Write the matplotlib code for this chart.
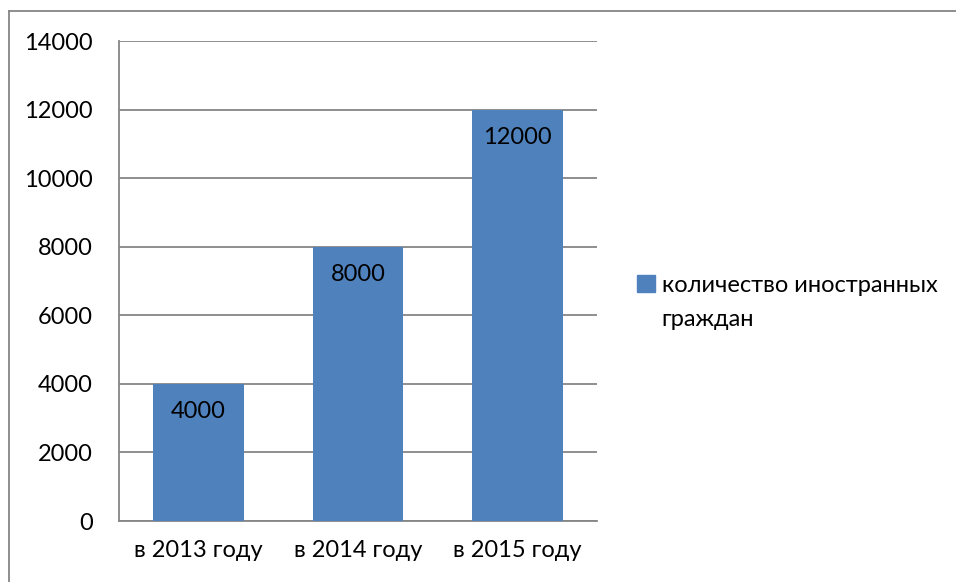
import matplotlib.pyplot as plt
from matplotlib.lines import Line2D
from matplotlib.patches import Patch

# данные
categories = ["в 2013 году", "в 2014 году", "в 2015 году"]
values = [4000, 8000, 12000]
series_name = ["количество иностранных", "граждан"]
yticks = [0, 2000, 4000, 6000, 8000, 10000, 12000, 14000]

plt.rcParams['font.family'] = ['Lato', 'DejaVu Sans']
W, H = 956, 582
fig = plt.figure(figsize=(W / 100, H / 100), dpi=100)
ax = fig.add_axes([119 / W, (H - 521) / H, 478 / W, 480 / H])

bar_color = '#4F81BD'
grid_color = '#868686'
fs = 17
x = list(range(len(categories)))
bars = ax.bar(x, values, width=0.57, color=bar_color, zorder=3)

for b, v in zip(bars, values):
    ax.text(b.get_x() + b.get_width() / 2, v - 820, str(v),
            ha='center', va='center', fontsize=fs, color='black', zorder=4)

ax.set_xlim(-0.5, 2.5)
ax.set_ylim(0, 14000)
ax.set_yticks(yticks)
ax.set_yticklabels([str(t) for t in yticks])
ax.set_xticks(x)
ax.set_xticklabels(categories)
ax.tick_params(axis='both', length=0, labelsize=fs, colors='black')
ax.tick_params(axis='y', pad=19)
ax.tick_params(axis='x', pad=14)
ax.yaxis.grid(True, color=grid_color, lw=1.3, zorder=0)
for s in ['top', 'right']:
    ax.spines[s].set_visible(False)
for s in ['left', 'bottom']:
    ax.spines[s].set_color(grid_color)
    ax.spines[s].set_linewidth(1.3)

# легенда: первая строка с маркером, вторая строка отдельным текстом
leg = fig.legend(handles=[Patch(color=bar_color, label=series_name[0])],
                 loc='center left', bbox_to_anchor=(637 / W, 1 - 285 / H),
                 frameon=False, fontsize=fs, handlelength=0.75, handleheight=0.75,
                 handletextpad=0.3, borderaxespad=0, borderpad=0)
fig.text(661 / W, 1 - 320 / H, series_name[1], fontsize=fs, va='center', ha='left')

# рамка области диаграммы
fig.add_artist(Line2D([9 / W, 9 / W], [0, 1 - 11 / H], color=grid_color, lw=1.3))
fig.add_artist(Line2D([9 / W, 1], [1 - 11 / H, 1 - 11 / H], color=grid_color, lw=1.3))

plt.savefig('out.png', dpi=100)
plt.close()
